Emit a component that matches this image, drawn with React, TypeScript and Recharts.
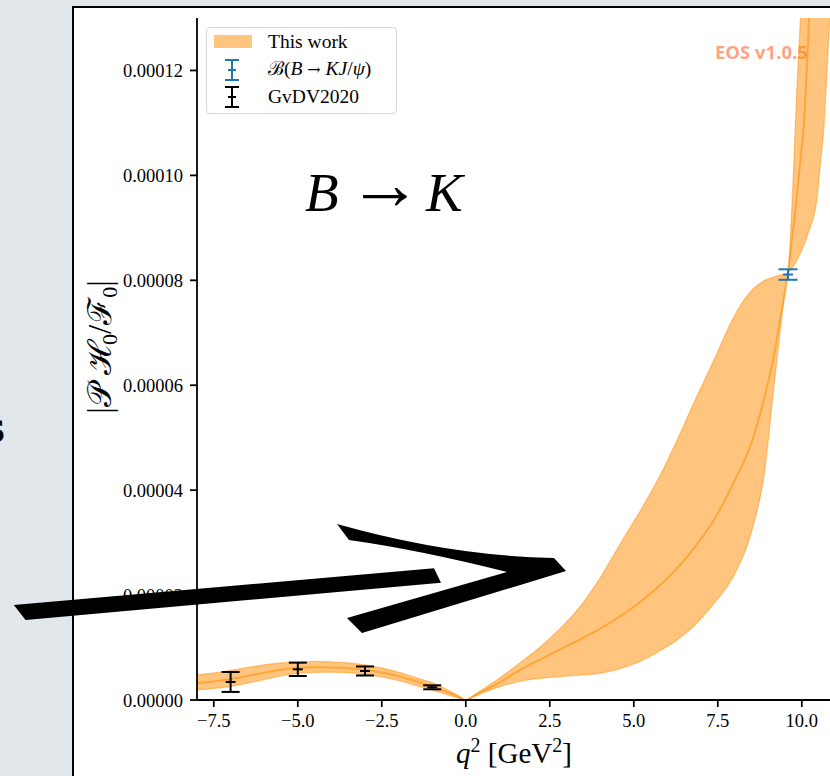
import React from 'react';
import {
  ComposedChart,
  Area,
  Line,
  Scatter,
  ErrorBar,
  XAxis,
  YAxis,
  Legend,
  Customized,
} from 'recharts';

// q^2 grid [GeV^2]
const qSquared = [
  -8, -7.5, -7, -6.5, -6, -5.5, -5, -4.5, -4, -3.5, -3, -2.5, -2, -1.5, -1, -0.5, -0.2, 0,
  0.3, 0.9, 1.8, 2.3, 2.8, 3.3, 4.0, 4.6, 5.3, 5.8, 6.3, 6.8, 7.4, 8.0, 8.5, 8.9, 9.15, 9.35,
  9.59, 9.67, 9.76, 9.85, 9.96, 10.05, 10.2, 10.45, 10.55, 10.65, 10.8, 11.0, 11.5, 12,
];
// band values in units of 1e-5
const bandUpper = [
  0.477, 0.515, 0.56, 0.62, 0.67, 0.705, 0.725, 0.735, 0.728, 0.705, 0.668, 0.61, 0.53, 0.43, 0.33, 0.18, 0.075, 0,
  0.12, 0.37, 0.8, 1.06, 1.36, 1.7, 2.33, 2.98, 3.72, 4.3, 4.97, 5.68, 6.5, 7.33, 7.8, 8.0, 8.06, 8.1,
  8.14, 8.91, 10.18, 11.6, 13.0, 14.5, 17.0, 21, 23, 25, 28, 32, 40, 50,
];
const bandCentral = [
  0.32, 0.355, 0.4, 0.46, 0.52, 0.575, 0.61, 0.625, 0.62, 0.605, 0.575, 0.525, 0.455, 0.36, 0.26, 0.135, 0.055, 0,
  0.1, 0.3, 0.64, 0.8, 0.96, 1.12, 1.36, 1.6, 1.92, 2.2, 2.52, 2.9, 3.45, 4.18, 4.9, 5.8, 6.5, 7.25,
  8.14, 8.6, 9.05, 9.6, 10.3, 10.88, 12.75, 16, 17.5, 19, 22, 26, 34, 42,
];
const bandLower = [
  0.19, 0.22, 0.26, 0.32, 0.39, 0.46, 0.51, 0.525, 0.53, 0.52, 0.49, 0.44, 0.37, 0.28, 0.19, 0.09, 0.035, 0,
  0.08, 0.23, 0.38, 0.42, 0.445, 0.47, 0.51, 0.6, 0.77, 0.95, 1.15, 1.42, 1.85, 2.4, 3.2, 4.4, 5.85, 7.0,
  8.14, 8.2, 8.28, 8.38, 8.52, 8.65, 8.92, 9.55, 10.2, 10.85, 12.6, 15, 22, 30,
];

// GvDV2020 points
const gvdvQ2 = [-7, -5, -3, -1];
const gvdvValue = [0.344, 0.585, 0.553, 0.242];
const gvdvError = [0.19, 0.127, 0.086, 0.038];

// B(B -> K J/psi)
const jpsiQ2 = [9.59];
const jpsiValue = [8.11];
const jpsiError = [0.1];

const xTicks = [-7.5, -5, -2.5, 0, 2.5, 5, 7.5, 10];
const yTicks = [0, 2, 4, 6, 8, 10, 12];

const bandData = qSquared.map((x, i) => ({
  x,
  band: [bandLower[i], bandUpper[i]],
  mid: bandCentral[i],
}));
const gvdvData = gvdvQ2.map((x, i) => ({ x, y: gvdvValue[i], err: gvdvError[i] }));
const jpsiData = jpsiQ2.map((x, i) => ({ x, y: jpsiValue[i], err: jpsiError[i] }));

const ORANGE = '#ff8c00';
const BLUE = '#1f77b4';
const SERIF = '"Liberation Serif", "Times New Roman", serif';

const fmtX = (v: number) => v.toFixed(1).replace('-', '\u2212');
const fmtY = (v: number) => (v * 1e-5).toFixed(5);

const dashShape = (color: string) => (props: any) => {
  const { cx, cy } = props;
  if (cx == null || cy == null) return <g />;
  return <line x1={cx - 5} x2={cx + 5} y1={cy} y2={cy} stroke={color} strokeWidth={2} />;
};

const ErrIcon = ({ color }: { color: string }) => (
  <svg width={20} height={24} style={{ position: 'absolute', left: 0, top: 0 }}>
    <line x1={10} x2={10} y1={2} y2={22} stroke={color} strokeWidth={2} />
    <line x1={3} x2={17} y1={2} y2={2} stroke={color} strokeWidth={2} />
    <line x1={3} x2={17} y1={22} y2={22} stroke={color} strokeWidth={2} />
    <line x1={6} x2={14} y1={12} y2={12} stroke={color} strokeWidth={2} />
  </svg>
);

const renderLegend = () => (
  <div
    style={{
      position: 'relative',
      width: 191,
      height: 87,
      boxSizing: 'border-box',
      border: '1.5px solid #d6d6d6',
      borderRadius: 4,
      background: 'rgba(255,255,255,0.85)',
      fontFamily: SERIF,
      fontSize: 19.5,
      color: '#000',
      lineHeight: 1,
      whiteSpace: 'nowrap',
    }}
  >
    <div style={{ position: 'absolute', left: 7, top: 7, width: 38, height: 13, background: ORANGE, opacity: 0.5 }} />
    <div style={{ position: 'absolute', left: 61, top: 4 }}>This work</div>
    <div style={{ position: 'absolute', left: 15, top: 30, width: 20, height: 24 }}>
      <ErrIcon color={BLUE} />
    </div>
    <div style={{ position: 'absolute', left: 61, top: 31 }}>
      ℬ(<i>B</i> <span style={{ fontFamily: '"DejaVu Serif", serif', fontSize: 16 }}>→</span> <i>KJ</i>/<i>ψ</i>)
    </div>
    <div style={{ position: 'absolute', left: 15, top: 57, width: 20, height: 24 }}>
      <ErrIcon color="#000" />
    </div>
    <div style={{ position: 'absolute', left: 61, top: 59 }}>GvDV2020</div>
  </div>
);

const Annotations = () => (
  <g>
    <text x={305} y={211} fontFamily={SERIF} fontSize={55} fill="#000">
      <tspan fontStyle="italic">B</tspan>
    </text>
    <text x={348} y={209} fontFamily={SERIF} fontSize={74} fill="#000">
      →
    </text>
    <text x={426} y={211} fontFamily={SERIF} fontSize={55} fill="#000">
      <tspan fontStyle="italic">K</tspan>
    </text>
    <text x={514} y={763} fontFamily={SERIF} fontSize={29} fill="#000" textAnchor="middle">
      <tspan fontStyle="italic">q</tspan>
      <tspan dy={-11} fontSize={20}>2</tspan>
      <tspan dy={11}> [GeV</tspan>
      <tspan dy={-11} fontSize={20}>2</tspan>
      <tspan dy={11}>]</tspan>
    </text>
    <text
      x={0}
      y={0}
      transform="translate(111,347) rotate(-90)"
      fontFamily={SERIF}
      fontSize={33}
      fill="#000"
      textAnchor="middle"
    >
      <tspan>|𝒫 ℋ</tspan>
      <tspan dy={6} fontSize={22}>0</tspan>
      <tspan dy={-6}>/ℱ</tspan>
      <tspan dy={6} fontSize={22}>0</tspan>
      <tspan dy={-6}>|</tspan>
    </text>
    <rect x={707} y={38} width={111} height={31} fill="#fff" fillOpacity={0.5} />
    <text
      x={715}
      y={59}
      fontFamily='"Open Sans", "DejaVu Sans", sans-serif'
      fontWeight={700}
      fontSize={18.5}
      fill="#ff4500"
      fillOpacity={0.5}
    >
      EOS v1.0.5
    </text>
  </g>
);

export default function App() {
  const axisStroke = { stroke: '#000', strokeWidth: 1.8 };
  return (
    <div
      style={{
        position: 'fixed',
        left: 0,
        top: 0,
        width: 830,
        height: 776,
        overflow: 'hidden',
        background: '#e2e7eb',
      }}
    >
      <div
        style={{
          position: 'absolute',
          left: 72,
          top: 6,
          width: 758,
          height: 770,
          boxSizing: 'border-box',
          background: '#fff',
          borderLeft: '2px solid #000',
          borderTop: '2px solid #000',
        }}
      />
      <div style={{ position: 'absolute', left: 0, top: 0 }}>
        <ComposedChart
          width={880}
          height={776}
          data={bandData}
          margin={{ top: 18, right: 11, bottom: 0, left: 0 }}
        >
          <XAxis
            dataKey="x"
            type="number"
            domain={[-8, 12]}
            ticks={xTicks}
            allowDataOverflow
            height={76}
            tickFormatter={fmtX}
            tickSize={7}
            tickMargin={7}
            axisLine={axisStroke}
            tickLine={axisStroke}
            tick={{ fill: '#000', fontSize: 18.5, fontFamily: SERIF }}
          />
          <XAxis
            xAxisId="top"
            orientation="top"
            dataKey="x"
            type="number"
            domain={[-8, 12]}
            ticks={xTicks}
            allowDataOverflow
            height={0}
            tickSize={6}
            tickFormatter={() => ''}
            axisLine={axisStroke}
            tickLine={axisStroke}
          />
          <YAxis
            type="number"
            domain={[0, 13]}
            ticks={yTicks}
            allowDataOverflow
            width={197}
            tickFormatter={fmtY}
            tickSize={7}
            tickMargin={7}
            axisLine={axisStroke}
            tickLine={axisStroke}
            tick={{ fill: '#000', fontSize: 18.5, fontFamily: SERIF }}
          />
          <Legend
            verticalAlign="middle"
            align="center"
            layout="horizontal"
            wrapperStyle={{ left: 206, top: 27, width: 191, height: 87 }}
            content={renderLegend}
          />
          <Area
            type="monotone"
            dataKey="band"
            fill={ORANGE}
            fillOpacity={0.5}
            stroke={ORANGE}
            strokeOpacity={0.45}
            strokeWidth={1.3}
            isAnimationActive={false}
            dot={false}
            activeDot={false}
          />
          <Line
            type="monotone"
            dataKey="mid"
            stroke={ORANGE}
            strokeOpacity={0.55}
            strokeWidth={2}
            dot={false}
            activeDot={false}
            isAnimationActive={false}
          />
          <Scatter data={gvdvData} dataKey="y" shape={dashShape('#000')} isAnimationActive={false}>
            <ErrorBar dataKey="err" direction="y" width={9} stroke="#000" strokeWidth={2} isAnimationActive={false} />
          </Scatter>
          <Scatter data={jpsiData} dataKey="y" shape={dashShape(BLUE)} isAnimationActive={false}>
            <ErrorBar dataKey="err" direction="y" width={9.5} stroke={BLUE} strokeWidth={2} isAnimationActive={false} />
          </Scatter>
          <Customized component={Annotations} />
        </ComposedChart>
      </div>
      <svg
        width={830}
        height={776}
        style={{ position: 'absolute', left: 0, top: 0, pointerEvents: 'none' }}
      >
        <text x={-18.5} y={442} fontFamily='"DejaVu Sans", sans-serif' fontWeight={700} fontSize={40} fill="#000">
          s
        </text>
        <path d="M 13.8 605 L 434 568.3 L 441 582.7 L 25.6 620 Z" fill="#000" />
        <path
          d="M 337 524 Q 450 556 554 558 L 566 571 L 362 633 L 347 618 L 507 572 Q 420 550 349 540 Z"
          fill="#000"
        />
      </svg>
    </div>
  );
}
